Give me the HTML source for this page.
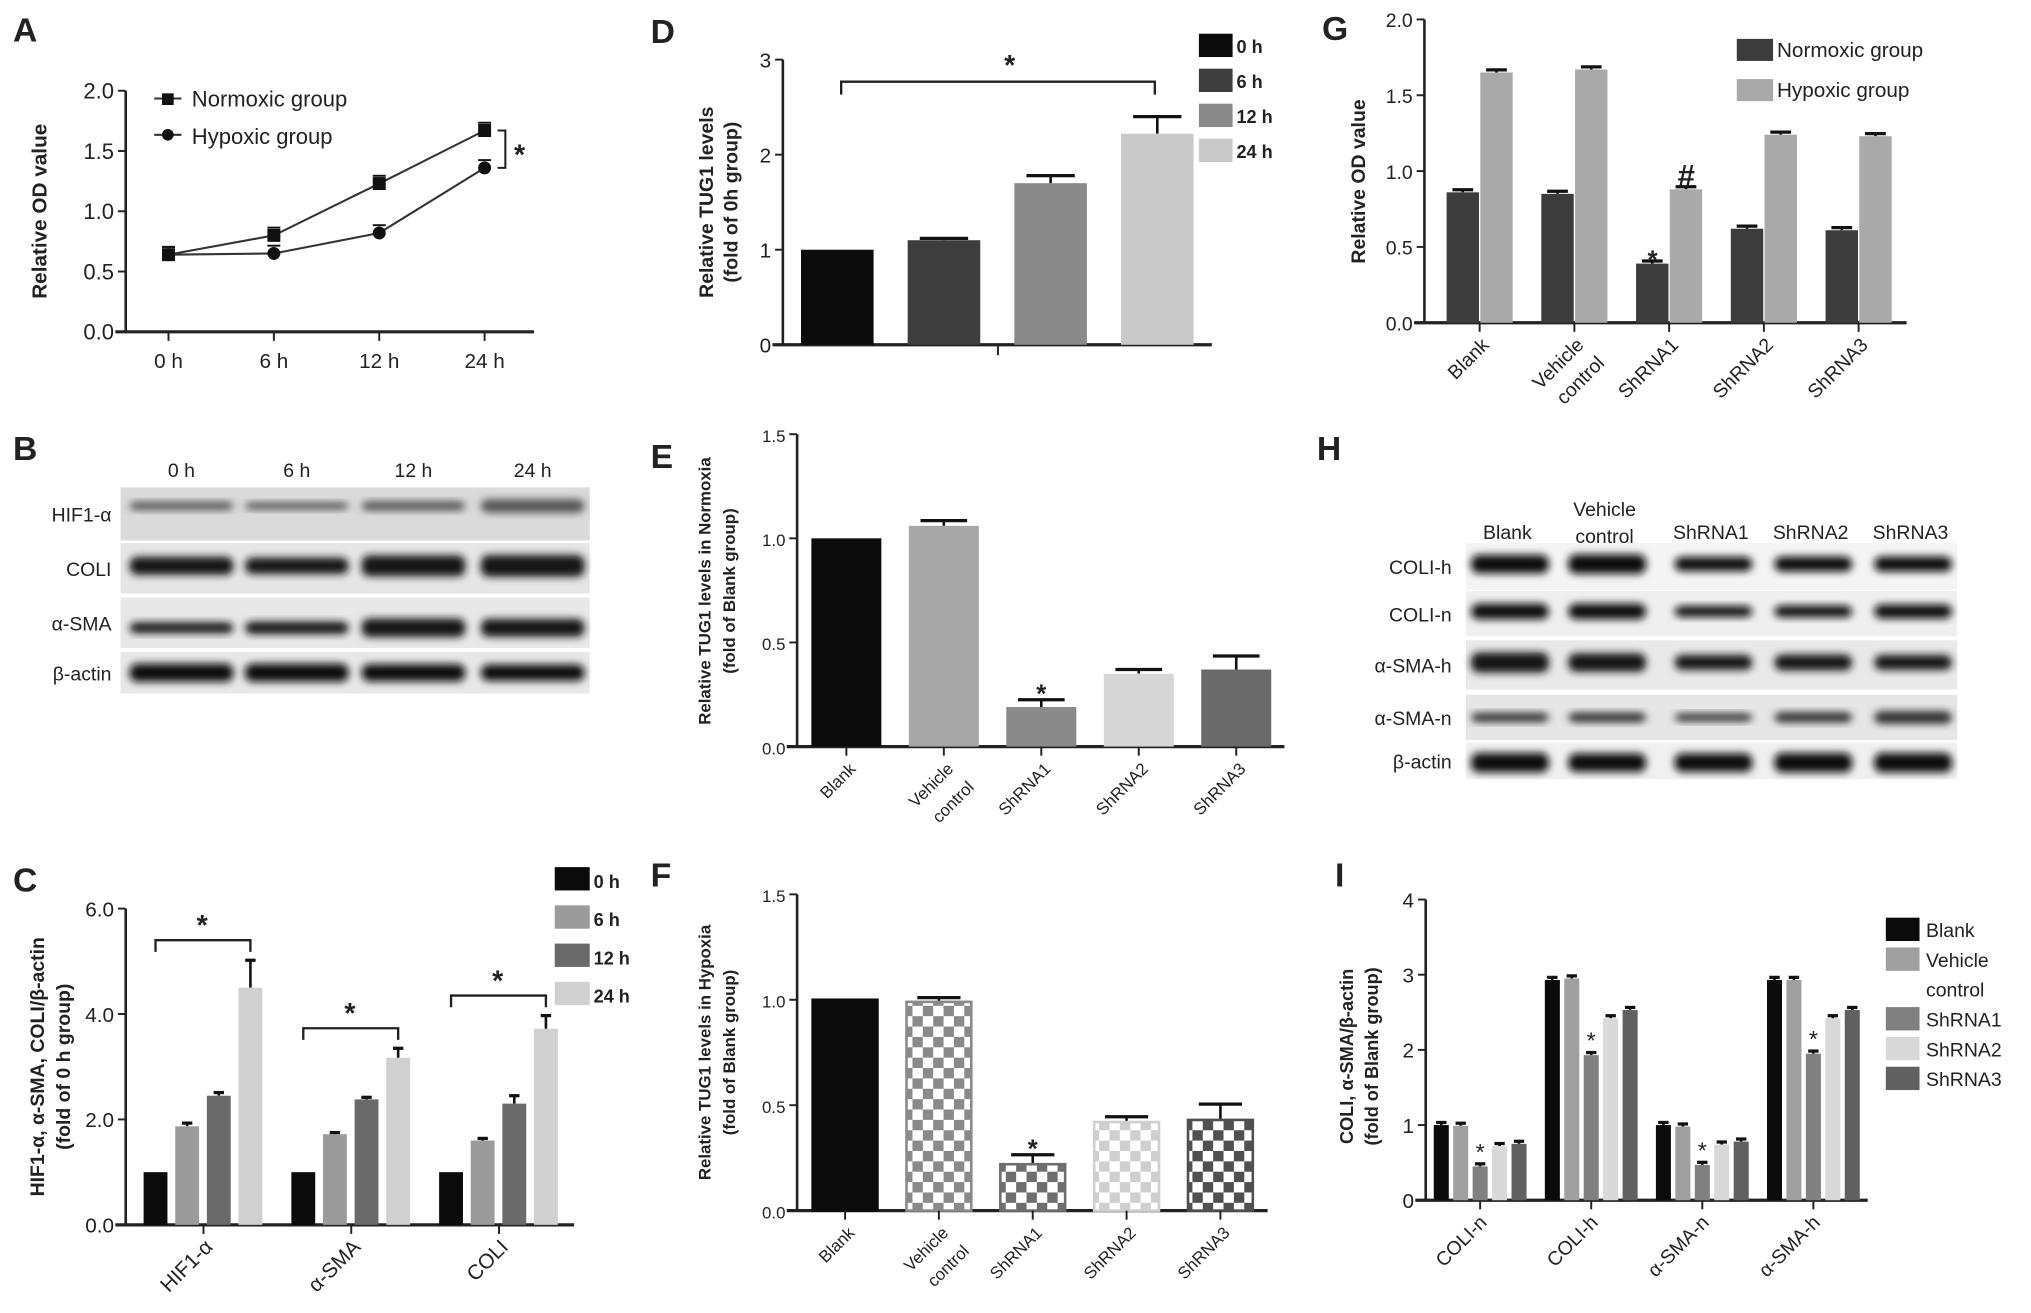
<!DOCTYPE html>
<html><head><meta charset="utf-8"><style>
html,body{margin:0;padding:0;background:#fff}
svg{display:block}
text{font-family:"Liberation Sans",Arial,sans-serif;fill:#222}
</style></head><body>
<svg id="fig" xmlns="http://www.w3.org/2000/svg" width="2031" height="1313" viewBox="0 0 1567 1013" preserveAspectRatio="none">
<defs>
<filter id="blur" x="-20%" y="-50%" width="140%" height="200%"><feGaussianBlur stdDeviation="3"/></filter>
<pattern id="chkV" width="16" height="16" patternUnits="userSpaceOnUse"><rect width="16" height="16" fill="#fff"/><rect width="8" height="8" fill="#8a8a8a"/><rect x="8" y="8" width="8" height="8" fill="#8a8a8a"/></pattern>
<pattern id="chk1" width="16" height="16" patternUnits="userSpaceOnUse"><rect width="16" height="16" fill="#fff"/><rect width="8" height="8" fill="#6e6e6e"/><rect x="8" y="8" width="8" height="8" fill="#6e6e6e"/></pattern>
<pattern id="chk2" width="16" height="16" patternUnits="userSpaceOnUse"><rect width="16" height="16" fill="#fff"/><rect width="8" height="8" fill="#cfcfcf"/><rect x="8" y="8" width="8" height="8" fill="#cfcfcf"/></pattern>
<pattern id="chk3" width="16" height="16" patternUnits="userSpaceOnUse"><rect width="16" height="16" fill="#fff"/><rect width="8" height="8" fill="#505050"/><rect x="8" y="8" width="8" height="8" fill="#505050"/></pattern>
</defs>
</svg>
<script>
// ---------- DATA ----------
const aCategories = ["0 h","6 h","12 h","24 h"];
const aNormoxic = [0.64,0.80,1.23,1.67];
const aHypoxic = [0.64,0.65,0.82,1.36];
const aTicks = ["0.0","0.5","1.0","1.5","2.0"];

const dCategories = ["0 h","6 h","12 h","24 h"];
const dValues = [1.0,1.1,1.7,2.22];
const dErrors = [0,0.02,0.08,0.18];
const dTicks = ["0","1","2","3"];

const gCategories = ["Blank","Vehicle control","ShRNA1","ShRNA2","ShRNA3"];
const gNormoxic = [0.86,0.85,0.39,0.62,0.61];
const gHypoxic = [1.65,1.67,0.88,1.24,1.23];
const gTicks = ["0.0","0.5","1.0","1.5","2.0"];

const eCategories = ["Blank","Vehicle control","ShRNA1","ShRNA2","ShRNA3"];
const eValues = [1.0,1.06,0.19,0.35,0.37];
const eErrors = [0,0.025,0.035,0.02,0.065];
const eTicks = ["0.0","0.5","1.0","1.5"];

const fCategories = ["Blank","Vehicle control","ShRNA1","ShRNA2","ShRNA3"];
const fValues = [1.0,0.99,0.22,0.42,0.43];
const fErrors = [0,0.02,0.045,0.025,0.075];
const fTicks = ["0.0","0.5","1.0","1.5"];

const cCategories = ["HIF1-α","α-SMA","COLI"];
const cSeries = ["0 h","6 h","12 h","24 h"];
const c0h = [1,1,1];
const c6h = [1.87,1.72,1.6];
const c12h = [2.45,2.38,2.3];
const c24h = [4.5,3.17,3.72];
const c0hErr = [0,0,0];
const c6hErr = [0.06,0.03,0.04];
const c12hErr = [0.06,0.04,0.15];
const c24hErr = [0.52,0.18,0.25];
const cTicks = ["0.0","2.0","4.0","6.0"];

const iCategories = ["COLI-n","COLI-h","α-SMA-n","α-SMA-h"];
const iSeries = ["Blank","Vehicle control","ShRNA1","ShRNA2","ShRNA3"];
const iBlank = [1,2.93,1,2.93];
const iVehicle = [0.99,2.95,0.98,2.93];
const iSh1 = [0.45,1.93,0.47,1.95];
const iSh2 = [0.72,2.42,0.74,2.42];
const iSh3 = [0.75,2.53,0.78,2.53];
const iTicks = ["0","1","2","3","4"];

// ---------- HELPERS ----------
const NS="http://www.w3.org/2000/svg";
const svg=document.getElementById('fig');
function el(tag,attrs,parent){const e=document.createElementNS(NS,tag);for(const k in attrs)e.setAttribute(k,attrs[k]);(parent||svg).appendChild(e);return e;}
function txt(s,x,y,size,opts,parent){opts=opts||{};const t=el('text',{x:x,y:y,'font-size':size,'text-anchor':opts.anchor||'middle','font-weight':opts.bold?'bold':'normal'},parent);if(opts.rot!==undefined)t.setAttribute('transform','rotate('+opts.rot+' '+x+' '+y+')');t.textContent=s;return t;}
function scale(v,vmin,vmax,y0,y1){return y0+(v-vmin)/(vmax-vmin)*(y1-y0);}
function yAxis(g,x,y0,y1,ticks,vmax,xEnd,size){
  const ax=el('line',{x1:x,y1:y0,x2:x,y2:y1,stroke:'#222','stroke-width':2},g);
  
  
  const xa=el('line',{x1:x-8,y1:y0,x2:xEnd,y2:y0,stroke:'#222','stroke-width':2.5},g);
  
  
  ticks.forEach((t,i)=>{const v=vmax*i/(ticks.length-1);const y=scale(v,0,vmax,y0,y1);
    el('line',{x1:x-6,y1:y,x2:x,y2:y,stroke:'#222','stroke-width':1.5},g);
    const tl=txt(t,x-9,y+6,size,{anchor:'end'},g);
    
    
  });
}
function errBar(g,cx,yTop,yErr,w){el('line',{x1:cx,y1:yTop,x2:cx,y2:yErr,stroke:'#111','stroke-width':2},g);el('line',{x1:cx-w,y1:yErr,x2:cx+w,y2:yErr,stroke:'#111','stroke-width':2.5},g);}
function grp(name){const g=el('g',{});return g;}
function letter(s,x,y){const t=txt(s,x,y,26,{anchor:'start',bold:true});}

[["A",10,32],["D",502,33],["G",1020,31],["B",10,355],["E",502,361],["H",1016,355],["C",10,688],["F",502,684],["I",1030,684]].forEach(p=>letter(p[0],p[1],p[2]));

// ---------- PANEL A ----------
(function(){
  const g=grp('panel-a-line-chart');
  const x0=97,y0=256,y1=70,vmax=2;
  yAxis(g,x0,y0,y1,aTicks,vmax,412,17);
  const xs=i=>130+i*81.3;
  aCategories.forEach((c,i)=>{el('line',{x1:xs(i),y1:y0,x2:xs(i),y2:y0+7,stroke:'#222','stroke-width':1.5},g);
    const t=txt(c,xs(i),y0+28,16,{},g);});
  [[aNormoxic,'sq','normoxic-line'],[aHypoxic,'ci','hypoxic-line']].forEach(s=>{
    const pts=s[0].map((v,i)=>xs(i)+','+scale(v,0,vmax,y0,y1)).join(' ');
    const pl=el('polyline',{points:pts,fill:'none',stroke:'#333','stroke-width':1.6},g);
    
    
    s[0].forEach((v,i)=>{const y=scale(v,0,vmax,y0,y1);
      let m;
      if(s[1]==='sq'){m=el('rect',{x:xs(i)-5,y:y-5,width:10,height:10,fill:'#111'},g);}else{m=el('circle',{cx:xs(i),cy:y,r:5,fill:'#111'},g);}
      
      
      el('line',{x1:xs(i)-5,y1:y-6,x2:xs(i)+5,y2:y-6,stroke:'#111','stroke-width':1.5},g);
    });
  });
  const l=xs(3)+10,yt=scale(aNormoxic[3],0,vmax,y0,y1),yb=scale(aHypoxic[3],0,vmax,y0,y1);
  el('polyline',{points:(l)+','+yt+' '+(l+6)+','+yt+' '+(l+6)+','+yb+' '+l+','+yb,fill:'none',stroke:'#222','stroke-width':1.6},g);
  txt('*',l+17,(yt+yb)/2+12,22,{bold:true},g);
  el('line',{x1:119,y1:76,x2:140,y2:76,stroke:'#333','stroke-width':1.6},g);el('rect',{x:125,y:72,width:9,height:9,fill:'#111'},g);
  const l1=txt('Normoxic group',148,82,17,{anchor:'start'},g);
  el('line',{x1:119,y1:104,x2:140,y2:104,stroke:'#333','stroke-width':1.6},g);el('circle',{cx:129.5,cy:104,r:4.5,fill:'#111'},g);
  const l2=txt('Hypoxic group',148,111,17,{anchor:'start'},g);
  const yt2=txt('Relative OD value',36,163,16,{bold:true,rot:-90},g);
})();

function singleBars(name,cats,vals,errs,ticks,cfg){
  const g=grp(name);
  yAxis(g,cfg.x0,cfg.y0,cfg.y1,ticks,cfg.vmax,cfg.xEnd,cfg.fs);
  cats.forEach((c,i)=>{const cx=cfg.cx0+i*cfg.step;const yv=scale(vals[i],0,cfg.vmax,cfg.y0,cfg.y1);
    if(errs[i]>0)errBar(g,cx,yv,scale(vals[i]+errs[i],0,cfg.vmax,cfg.y0,cfg.y1),cfg.bw/3);
    const r=el('rect',{x:cx-cfg.bw/2,y:yv,width:cfg.bw,height:cfg.y0-yv,fill:cfg.fills[i],stroke:cfg.strokes?cfg.strokes[i]:'none','stroke-width':2},g);
    
    
    if(cfg.star===i){txt('*',cx,scale(vals[i]+errs[i],0,cfg.vmax,cfg.y0,cfg.y1)+2,20,{bold:true},g);}
    if(cfg.xticks){el('line',{x1:cx,y1:cfg.y0,x2:cx,y2:cfg.y0+7,stroke:'#222','stroke-width':1.5},g);}
    if(cfg.rotLabels){const parts=c==='Vehicle control'?['Vehicle','control']:[c];
      parts.forEach((p,k)=>{const lx=cx+8+k*16,ly=cfg.y0+18+k*14;const t=txt(p,lx,ly,cfg.fs,{anchor:'end',rot:-45},g);});}
  });
  return g;
}

// ---------- PANEL D ----------
(function(){
  const g=singleBars('panel-d-bar-chart',dCategories,dValues,dErrors,dTicks,{x0:604,y0:266,y1:46,vmax:3,xEnd:935,fs:16,cx0:646,step:82.3,bw:56,fills:['#0b0b0b','#3e3e3e','#8a8a8a','#c9c9c9']});
  el('line',{x1:770,y1:266,x2:770,y2:274,stroke:'#222','stroke-width':1.5},g);
  el('polyline',{points:'649,73 649,63 891,63 891,73',fill:'none',stroke:'#222','stroke-width':1.8},g);
  txt('*',779,58,22,{bold:true},g);
  dCategories.forEach((c,i)=>{const y=26+i*27;el('rect',{x:925,y:y,width:26,height:18,fill:['#0b0b0b','#3e3e3e','#8a8a8a','#c9c9c9'][i]},g);
    const t=txt(c,954,y+15,14,{anchor:'start',bold:true},g);});
  const t1=txt('Relative TUG1 levels',550,156,15,{bold:true,rot:-90},g);
  txt('(fold of  0h group)',569,156,15,{bold:true,rot:-90},g);
})();

// ---------- PANEL E ----------
(function(){
  const g=singleBars('panel-e-bar-chart',eCategories,eValues,eErrors,eTicks,{x0:615,y0:576,y1:335,vmax:1.5,xEnd:991,fs:13,cx0:653,step:75.2,bw:54,fills:['#0b0b0b','#a7a7a7','#8a8a8a','#d6d6d6','#6a6a6a'],xticks:true,rotLabels:true,star:2});
  const t1=txt('Relative TUG1 levels in Normoxia',548,456,13,{bold:true,rot:-90},g);
  txt('(fold of Blank group)',567,456,13,{bold:true,rot:-90},g);
})();

// ---------- PANEL F ----------
(function(){
  const g=singleBars('panel-f-bar-chart',fCategories,fValues,fErrors,fTicks,{x0:615,y0:934,y1:690,vmax:1.5,xEnd:978,fs:13,cx0:652,step:72.4,bw:50,fills:['#0b0b0b','url(#chkV)','url(#chk1)','url(#chk2)','url(#chk3)'],strokes:['#0b0b0b','#8a8a8a','#6e6e6e','#cfcfcf','#505050'],xticks:true,rotLabels:true,star:2});
  const t1=txt('Relative TUG1 levels  in Hypoxia',548,812,13,{bold:true,rot:-90},g);
  txt('(fold of Blank group)',567,812,13,{bold:true,rot:-90},g);
})();

// ---------- PANEL G ----------
(function(){
  const g=grp('panel-g-bar-chart');
  const x0=1099,y0=249,y1=15,vmax=2;
  yAxis(g,x0,y0,y1,gTicks,vmax,1471,15);
  gCategories.forEach((c,i)=>{const cx=1141.6+i*73.1;
    el('line',{x1:cx,y1:y0,x2:cx,y2:y0+7,stroke:'#222','stroke-width':1.5},g);
    [[gNormoxic,-13,'#3c3c3c','normoxic'],[gHypoxic,13,'#a9a9a9','hypoxic']].forEach(s=>{
      const yv=scale(s[0][i],0,vmax,y0,y1);
      errBar(g,cx+s[1],yv,yv-2,8);
      const r=el('rect',{x:cx+s[1]-12.5,y:yv,width:25,height:y0-yv,fill:s[2]},g);
      
      
    });
    const parts=c==='Vehicle control'?['Vehicle','control']:[c];
    parts.forEach((p,k)=>{const t=txt(p,cx+8+k*16,y0+18+k*14,15,{anchor:'end',rot:-45},g);});
  });
  txt('*',1275,207,20,{bold:true},g);
  txt('#',1301,144,24,{bold:true},g);
  el('rect',{x:1340,y:30,width:28,height:17,fill:'#3c3c3c'},g);
  const l1=txt('Normoxic group',1371,44,16,{anchor:'start'},g);
  el('rect',{x:1340,y:61,width:28,height:17,fill:'#a9a9a9'},g);
  const l2=txt('Hypoxic group',1371,75,16,{anchor:'start'},g);
  const t1=txt('Relative  OD value',1053,140,15,{bold:true,rot:-90},g);
})();

// ---------- PANEL C ----------
(function(){
  const g=grp('panel-c-bar-chart');
  const x0=97,y0=945,y1=701,vmax=6;
  yAxis(g,x0,y0,y1,cTicks,vmax,443,16);
  const series=[c0h,c6h,c12h,c24h],errs=[c0hErr,c6hErr,c12hErr,c24hErr],fills=['#0b0b0b','#9b9b9b','#6a6a6a','#d0d0d0'];
  cCategories.forEach((c,i)=>{const gx=157+i*114;
    el('line',{x1:gx,y1:y0,x2:gx,y2:y0+7,stroke:'#222','stroke-width':1.5},g);
    series.forEach((s,j)=>{const cx=gx-37+j*24.4;const yv=scale(s[i],0,vmax,y0,y1);
      if(errs[j][i]>0)errBar(g,cx,yv,scale(s[i]+errs[j][i],0,vmax,y0,y1),4);
      const r=el('rect',{x:cx-9.2,y:yv,width:18.4,height:y0-yv,fill:fills[j]},g);
      
      
    });
    const bx1=gx-37,bx2=gx+36.2,top=scale(c24h[i]+c24hErr[i]+0.38,0,vmax,y0,y1);
    el('polyline',{points:bx1+','+(top+9)+' '+bx1+','+top+' '+bx2+','+top+' '+bx2+','+(top+9),fill:'none',stroke:'#222','stroke-width':1.8},g);
    txt('*',gx-1,top-4,22,{bold:true},g);
    const t=txt(c,gx+8,y0+18,16,{anchor:'end',rot:-45},g);
  });
  cSeries.forEach((s,j)=>{const y=669+j*29.5;el('rect',{x:428,y:y,width:27,height:18,fill:fills[j]},g);
    const t=txt(s,458,y+16,14,{anchor:'start',bold:true},g);});
  const t1=txt('HIF1-α, α-SMA, COLI/β-actin',34,823,15,{bold:true,rot:-90},g);
  txt('(fold of 0 h group)',54,823,15,{bold:true,rot:-90},g);
})();

// ---------- PANEL I ----------
(function(){
  const g=grp('panel-i-bar-chart');
  const x0=1100,y0=926,y1=694,vmax=4;
  yAxis(g,x0,y0,y1,iTicks,vmax,1441,16);
  const series=[iBlank,iVehicle,iSh1,iSh2,iSh3],fills=['#0b0b0b','#a0a0a0','#808080','#d9d9d9','#606060'];
  iCategories.forEach((c,i)=>{const gx=1142+i*85.7;
    el('line',{x1:gx,y1:y0,x2:gx,y2:y0+7,stroke:'#222','stroke-width':1.5},g);
    series.forEach((s,j)=>{const cx=gx-30+j*15;const yv=scale(s[i],0,vmax,y0,y1);
      errBar(g,cx,yv,yv-2,4);
      const r=el('rect',{x:cx-5.8,y:yv,width:11.6,height:y0-yv,fill:fills[j]},g);
      
      
    });
    txt('*',gx,scale(iSh1[i],0,vmax,y0,y1)-5,18,{},g);
    const t=txt(c,gx+6,y0+18,15,{anchor:'end',rot:-45},g);
  });
  const ly=[708,731,777,800,823];
  iSeries.forEach((s,j)=>{el('rect',{x:1455,y:ly[j],width:26,height:18,fill:fills[j]},g);
    const parts=s==='Vehicle control'?['Vehicle','control']:[s];
    parts.forEach((p,k)=>{const t=txt(p,1486,ly[j]+15+k*23,15,{anchor:'start'},g);});
  });
  const t1=txt('COLI, α-SMA/β-actin',1044,815,14,{bold:true,rot:-90},g);
  txt('(fold of Blank group)',1063,815,14,{bold:true,rot:-90},g);
})();

// ---------- BLOTS ----------
function blot(name,x,w,rows,lanes,laneW,intens,labelX){
  const g=grp(name);
  rows.forEach((r,ri)=>{
    const bg=el('rect',{x:x,y:r.y,width:w,height:r.h,fill:r.bg},g);
    
    
    lanes.forEach((lx,li)=>{const k=intens[ri][li];
      el('rect',{x:lx-laneW/2,y:r.y+r.h*r.by-r.bh*k/2,width:laneW,height:Math.max(2,r.bh*k),rx:6,fill:r.band,filter:'url(#blur)'},g);});
    const t=txt(r.label,labelX,r.y+r.h/2+6,15,{anchor:'end'},g);
    
    
  });
  return g;
}
(function(){
  const g=blot('panel-b-western-blot',93,362,[
    {y:376,h:41,bg:'#dadada',band:'#555',by:0.35,bh:8,label:'HIF1-α'},
    {y:419,h:39,bg:'#e6e6e6',band:'#151515',by:0.45,bh:14,label:'COLI'},
    {y:461,h:39,bg:'#e8e8e8',band:'#151515',by:0.6,bh:12,label:'α-SMA'},
    {y:503,h:32,bg:'#e8e8e8',band:'#0e0e0e',by:0.5,bh:14,label:'β-actin'}],
    [140,229,319,411],80,
    [[0.8,0.7,0.9,1.3],[1,0.9,1.15,1.2],[0.7,0.8,1.2,1.15],[1,1,0.95,0.9]],86);
  ['0 h','6 h','12 h','24 h'].forEach((c,i)=>{const t=txt(c,[140,229,319,411][i],368,15,{},g);});
})();
(function(){
  const lanes=[1165,1240,1322,1399,1476];
  const g=blot('panel-h-western-blot',1131,379,[
    {y:419,h:36,bg:'#f4f4f4',band:'#0e0e0e',by:0.45,bh:13,label:'COLI-h'},
    {y:456,h:35,bg:'#efefef',band:'#101010',by:0.45,bh:12,label:'COLI-n'},
    {y:494,h:38,bg:'#e9e9e9',band:'#141414',by:0.45,bh:13,label:'α-SMA-h'},
    {y:536,h:35,bg:'#e6e6e6',band:'#333',by:0.5,bh:9,label:'α-SMA-n'},
    {y:573,h:28,bg:'#f0f0f0',band:'#0a0a0a',by:0.55,bh:15,label:'β-actin'}],
    lanes,60,
    [[1.1,1.15,0.85,0.9,0.9],[1,1,0.7,0.75,0.9],[1.2,1.1,0.9,0.95,0.9],[0.8,0.85,0.7,0.9,1.1],[1,0.95,0.95,1,1]],1120);
  [['Blank'],['Vehicle','control'],['ShRNA1'],['ShRNA2'],['ShRNA3']].forEach((p,i)=>{
    p.forEach((s,k)=>{const y=p.length===2?398+k*21:416;const t=txt(s,lanes[i]-2,y,15,{},g);});
  });
})();
</script>
</body></html>
